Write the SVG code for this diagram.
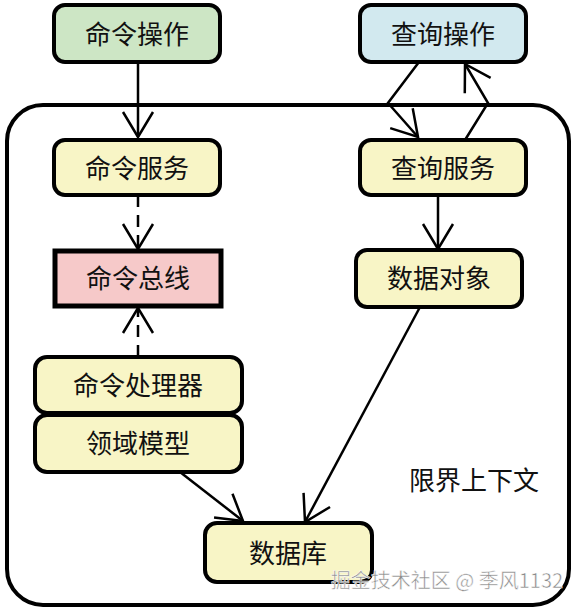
<svg xmlns="http://www.w3.org/2000/svg" width="575" height="610" viewBox="0 0 575 610">
<style>
.n{stroke:#000;stroke-width:4}
.y{fill:#f8f5c6}
.t{font-family:"Noto Sans CJK SC","Noto Sans CJK JP",sans-serif;font-size:26px;fill:#111;text-anchor:middle}
.c{fill:none;stroke:#000;stroke-width:2.5}
.d{stroke-dasharray:12,8}
</style>
<defs>
<marker id="a" markerUnits="userSpaceOnUse" markerWidth="34" markerHeight="34" viewBox="-2 -2 30 34" refX="25" refY="15" orient="auto">
<path d="M0,0 L25,15 L0,30" fill="none" stroke="#000" stroke-width="2.5"/>
</marker>
</defs>
<rect x="7" y="105" width="562" height="500" rx="36" fill="#fff" stroke="#000" stroke-width="4"/>
<g id="cmd-op"><rect class="n" x="54" y="5" width="166" height="57" rx="11" fill="#cde6c5"/><text class="t" x="137" y="44">命令操作</text></g>
<g id="query-op"><rect class="n" x="360" y="5" width="166" height="57" rx="11" fill="#d2e9ef"/><text class="t" x="443" y="44">查询操作</text></g>
<g id="cmd-svc"><rect class="n y" x="54" y="140" width="166" height="55" rx="11"/><text class="t" x="137" y="178">命令服务</text></g>
<g id="query-svc"><rect class="n y" x="360" y="140" width="166" height="55" rx="11"/><text class="t" x="443" y="178">查询服务</text></g>
<g id="cmd-bus"><rect x="55" y="251" width="166" height="55" fill="#f6c9c9" stroke="#000" stroke-width="5"/><text class="t" x="138" y="288">命令总线</text></g>
<g id="data-obj"><rect class="n y" x="356" y="250" width="166" height="57" rx="11"/><text class="t" x="439" y="288">数据对象</text></g>
<g id="cmd-handler"><rect class="n y" x="35" y="357" width="207" height="56" rx="12"/><text class="t" x="138" y="395">命令处理器</text></g>
<g id="domain"><rect class="n y" x="35" y="415" width="207" height="57" rx="12"/><text class="t" x="138" y="453">领域模型</text></g>
<g id="db"><rect class="n y" x="205" y="523" width="167" height="59" rx="12"/><text class="t" x="288" y="563">数据库</text></g>
<g id="connectors">
<line class="c" x1="138" y1="62" x2="138" y2="137" marker-end="url(#a)"/>
<line class="c d" x1="138" y1="195" x2="138" y2="249" marker-end="url(#a)"/>
<line class="c d" x1="138" y1="357" x2="138" y2="308" marker-end="url(#a)"/>
<polyline class="c" points="419,62 388,103 418,137" marker-end="url(#a)"/>
<polyline class="c" points="465,140 488,103 465,64" marker-end="url(#a)"/>
<line class="c" x1="438" y1="195" x2="438" y2="249" marker-end="url(#a)"/>
<line class="c" x1="420" y1="307" x2="305" y2="522" marker-end="url(#a)"/>
<line class="c" x1="180" y1="472" x2="243" y2="521" marker-end="url(#a)"/>
</g>
<text class="t" x="474" y="490">限界上下文</text>
<text x="447" y="588" style="font-family:'Noto Sans CJK SC',sans-serif;font-size:20px;fill:#8a8a8a;stroke:#fff;stroke-width:0.5;text-anchor:middle">掘金技术社区 @ 季风1132</text>
</svg>
